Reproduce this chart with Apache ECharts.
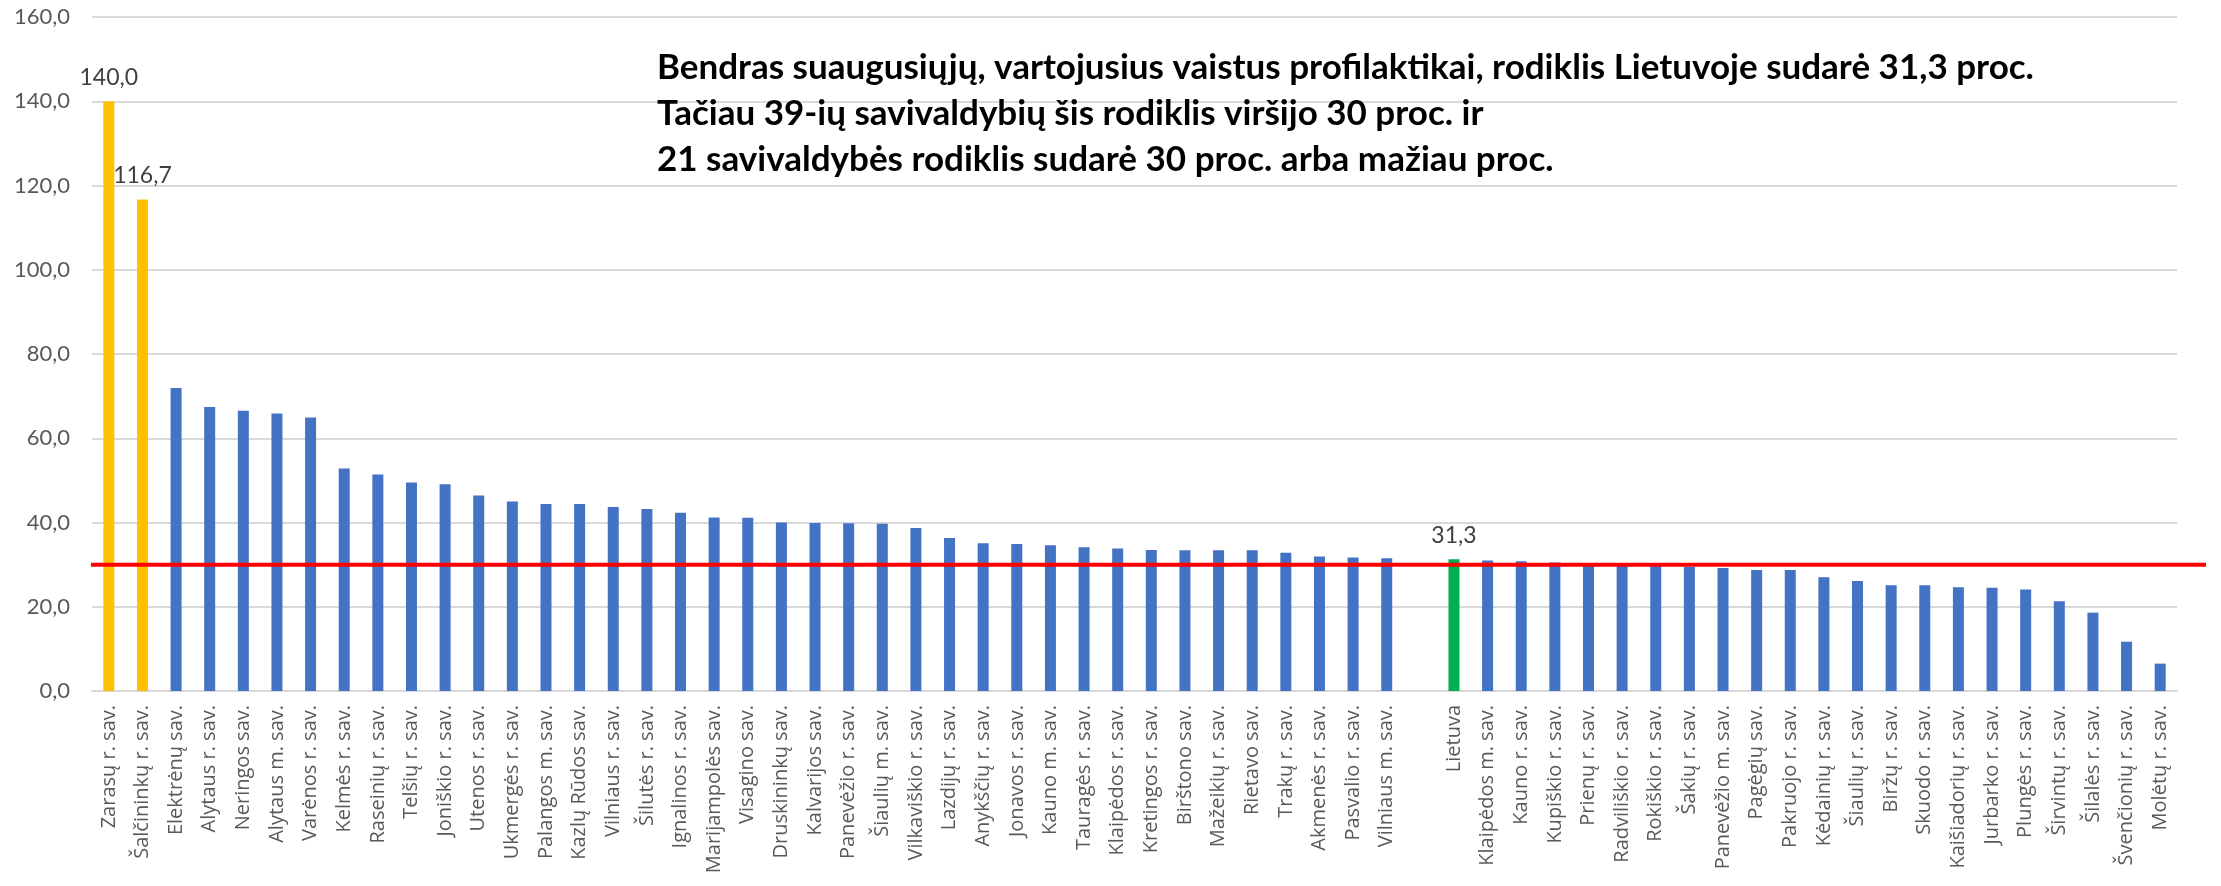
<!DOCTYPE html>
<html>
<head>
<meta charset="utf-8">
<script src="https://cdn.jsdelivr.net/npm/echarts@6/dist/echarts.min.js"></script>
<style>
  html, body { margin: 0; padding: 0; background: #fff; }
  #chart { width: 2221px; height: 886px; }
</style>
</head>
<body>
<div id="chart"></div>
<script>
// savivaldybės (tuščia kategorija tarp grupių)
var categories = [
  'Zarasų r. sav.', 'Šalčininkų r. sav.', 'Elektrėnų sav.', 'Alytaus r. sav.', 'Neringos sav.',
  'Alytaus m. sav.', 'Varėnos r. sav.', 'Kelmės r. sav.', 'Raseinių r. sav.', 'Telšių r. sav.',
  'Joniškio r. sav.', 'Utenos r. sav.', 'Ukmergės r. sav.', 'Palangos m. sav.', 'Kazlų Rūdos sav.',
  'Vilniaus r. sav.', 'Šilutės r. sav.', 'Ignalinos r. sav.', 'Marijampolės sav.', 'Visagino sav.',
  'Druskininkų sav.', 'Kalvarijos sav.', 'Panevėžio r. sav.', 'Šiaulių m. sav.', 'Vilkaviškio r. sav.',
  'Lazdijų r. sav.', 'Anykščių r. sav.', 'Jonavos r. sav.', 'Kauno m. sav.', 'Tauragės r. sav.',
  'Klaipėdos r. sav.', 'Kretingos r. sav.', 'Birštono sav.', 'Mažeikių r. sav.', 'Rietavo sav.',
  'Trakų r. sav.', 'Akmenės r. sav.', 'Pasvalio r. sav.', 'Vilniaus m. sav.', '',
  'Lietuva', 'Klaipėdos m. sav.', 'Kauno r. sav.', 'Kupiškio r. sav.', 'Prienų r. sav.',
  'Radviliškio r. sav.', 'Rokiškio r. sav.', 'Šakių r. sav.', 'Panevėžio m. sav.', 'Pagėgių sav.',
  'Pakruojo r. sav.', 'Kėdainių r. sav.', 'Šiaulių r. sav.', 'Biržų r. sav.', 'Skuodo r. sav.',
  'Kaišiadorių r. sav.', 'Jurbarko r. sav.', 'Plungės r. sav.', 'Širvintų r. sav.', 'Šilalės r. sav.',
  'Švenčionių r. sav.', 'Molėtų r. sav.'
];

var values = [
  140.0, 116.7, 71.9, 67.4, 66.5,
  65.9, 64.9, 52.8, 51.4, 49.5,
  49.1, 46.4, 45.0, 44.4, 44.4,
  43.7, 43.2, 42.3, 41.2, 41.1,
  40.0, 39.9, 39.8, 39.7, 38.7,
  36.3, 35.1, 34.9, 34.6, 34.1,
  33.8, 33.5, 33.4, 33.4, 33.4,
  32.8, 31.9, 31.7, 31.5, null,
  31.3, 31.0, 30.8, 30.5, 29.9,
  29.8, 29.7, 29.5, 29.2, 28.7,
  28.7, 27.0, 26.1, 25.1, 25.1,
  24.6, 24.5, 24.1, 21.3, 18.6,
  11.7, 6.5
];

var highlightYellow = ['Zarasų r. sav.', 'Šalčininkų r. sav.'];
var highlightGreen = ['Lietuva'];
var labelled = ['Zarasų r. sav.', 'Šalčininkų r. sav.', 'Lietuva'];
var threshold = 30;

var titleLines = [
  'Bendras suaugusiųjų, vartojusius vaistus profilaktikai, rodiklis Lietuvoje sudarė 31,3 proc.',
  'Tačiau 39-ių savivaldybių šis rodiklis viršijo 30 proc. ir',
  '21 savivaldybės rodiklis sudarė 30 proc. arba mažiau proc.'
];

function fmt(v) {
  return v.toFixed(1).replace('.', ',');
}

var barData = values.map(function (v, i) {
  var name = categories[i];
  var color = '#4472C4';
  if (highlightYellow.indexOf(name) >= 0) color = '#FFC000';
  if (highlightGreen.indexOf(name) >= 0) color = '#00B050';
  return {
    value: v,
    itemStyle: { color: color },
    label: { show: labelled.indexOf(name) >= 0 && v != null }
  };
});

var myChart = echarts.init(document.getElementById('chart'));
myChart.setOption({
  animation: false,
  title: {
    text: titleLines.join('\n'),
    left: 652,
    top: 40,
    textStyle: {
      fontFamily: 'Lato',
      fontWeight: 'bold',
      fontSize: 35,
      lineHeight: 46,
      color: '#000'
    }
  },
  grid: { left: 92, right: 44, top: 17, bottom: 195 },
  xAxis: {
    type: 'category',
    data: categories,
    axisLine: { lineStyle: { color: '#D9D9D9', width: 2 } },
    axisTick: { show: false },
    axisLabel: {
      interval: 0,
      rotate: 90,
      margin: 14,
      fontFamily: 'Open Sans',
      fontSize: 20,
      color: '#595959'
    }
  },
  yAxis: {
    type: 'value',
    min: 0,
    max: 160,
    interval: 20,
    axisLine: { show: false },
    axisTick: { show: false },
    splitLine: { lineStyle: { color: '#D9D9D9', width: 2 } },
    axisLabel: {
      margin: 22,
      fontFamily: 'Lato',
      fontSize: 22,
      color: '#595959',
      formatter: function (v) { return fmt(v); }
    }
  },
  series: [{
    type: 'bar',
    data: barData,
    barWidth: 11,
    label: {
      position: 'top',
      distance: 12,
      fontFamily: 'Lato',
      fontSize: 23,
      color: '#404040',
      formatter: function (p) { return fmt(p.value); }
    }
  }]
});

// raudona 30 proc. riba, y iš ašies skalės
var yLine = myChart.convertToPixel({ yAxisIndex: 0 }, threshold);
myChart.setOption({
  graphic: [{
    type: 'line',
    silent: true,
    z: 10,
    shape: { x1: 91, y1: yLine, x2: 2206, y2: yLine },
    style: { stroke: '#FF0000', lineWidth: 4 }
  }]
});
</script>
</body>
</html>
